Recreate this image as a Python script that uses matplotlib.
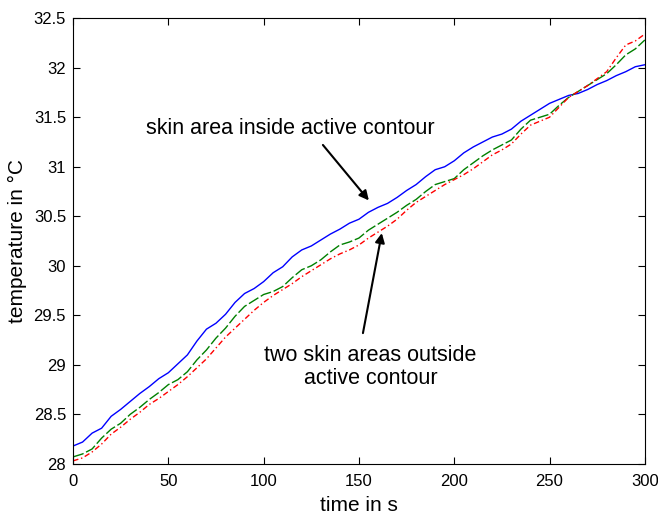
import matplotlib
matplotlib.use('Agg')
import matplotlib.pyplot as plt
import numpy as np

plt.rcParams['font.family'] = ['Liberation Sans', 'DejaVu Sans']

t = np.arange(0, 301, 5)

inside = [28.18, 28.22, 28.31, 28.36, 28.48, 28.55, 28.63, 28.71, 28.78, 28.86,
          28.92, 29.01, 29.10, 29.24, 29.36, 29.42, 29.51, 29.63, 29.72, 29.77,
          29.84, 29.93, 29.99, 30.09, 30.16, 30.20, 30.26, 30.32, 30.37, 30.43,
          30.47, 30.54, 30.59, 30.63, 30.69, 30.76, 30.82, 30.90, 30.97, 31.00,
          31.06, 31.14, 31.20, 31.25, 31.30, 31.33, 31.38, 31.46, 31.52, 31.58,
          31.64, 31.68, 31.72, 31.74, 31.78, 31.83, 31.87, 31.92, 31.96, 32.01,
          32.03]

outside1 = [28.07, 28.10, 28.15, 28.26, 28.35, 28.41, 28.50, 28.57, 28.65, 28.72,
            28.80, 28.85, 28.93, 29.05, 29.15, 29.27, 29.37, 29.49, 29.59, 29.65,
            29.71, 29.74, 29.79, 29.88, 29.96, 30.00, 30.06, 30.14, 30.21, 30.24,
            30.28, 30.36, 30.42, 30.48, 30.54, 30.61, 30.67, 30.75, 30.82, 30.85,
            30.88, 30.97, 31.04, 31.11, 31.17, 31.22, 31.27, 31.38, 31.47, 31.50,
            31.53, 31.62, 31.70, 31.76, 31.82, 31.88, 31.94, 32.03, 32.13, 32.19,
            32.28]

outside2 = [28.03, 28.06, 28.12, 28.20, 28.30, 28.37, 28.45, 28.52, 28.60, 28.66,
            28.73, 28.80, 28.88, 28.97, 29.06, 29.17, 29.28, 29.37, 29.46, 29.55,
            29.63, 29.70, 29.76, 29.82, 29.89, 29.95, 30.01, 30.07, 30.12, 30.16,
            30.21, 30.28, 30.34, 30.40, 30.47, 30.56, 30.64, 30.70, 30.76, 30.82,
            30.87, 30.92, 30.98, 31.05, 31.12, 31.17, 31.23, 31.33, 31.42, 31.46,
            31.50, 31.60, 31.70, 31.76, 31.82, 31.89, 31.96, 32.10, 32.23, 32.27,
            32.34]

xticks = [0, 50, 100, 150, 200, 250, 300]
yticks = [28, 28.5, 29, 29.5, 30, 30.5, 31, 31.5, 32, 32.5]
ytick_labels = ['28', '28.5', '29', '29.5', '30', '30.5', '31', '31.5', '32', '32.5']

fig = plt.figure(figsize=(6.58, 5.2), dpi=100)
ax = fig.add_axes([0.111, 0.108, 0.869, 0.857])

ax.plot(t, inside, color='#0000ff', lw=1.0)
ax.plot(t, outside1, color='#008000', lw=1.0, linestyle=(0, (8, 2)))
ax.plot(t, outside2, color='#ff0000', lw=1.0, linestyle=(0, (4, 2, 1, 2)))

ax.set_xlim(0, 300)
ax.set_ylim(28, 32.5)
ax.set_xticks(xticks)
ax.set_yticks(yticks)
ax.set_yticklabels(ytick_labels)
ax.tick_params(direction='in', top=True, right=True, length=5, labelsize=12)
ax.tick_params(axis='x', pad=7)
ax.tick_params(axis='y', pad=5)
ax.set_xlabel('time in s', fontsize=15, labelpad=5)
ax.set_ylabel('temperature in °C', fontsize=15, labelpad=5)

# text labels
ax.text(114, 31.39, 'skin area inside active contour', ha='center', va='center', fontsize=15.5)
ax.text(156, 28.98, 'two skin areas outside\nactive contour', ha='center', va='center',
        fontsize=15.5, linespacing=1.15)

# arrows
arrow = dict(arrowstyle='-|>', color='black', lw=1.5, shrinkA=0, shrinkB=0, mutation_scale=14)
ax.annotate('', xy=(155.2, 30.66), xytext=(131.1, 31.22), arrowprops=arrow)
ax.annotate('', xy=(162.0, 30.33), xytext=(152.1, 29.32), arrowprops=arrow)

fig.savefig('out.png', dpi=100)
